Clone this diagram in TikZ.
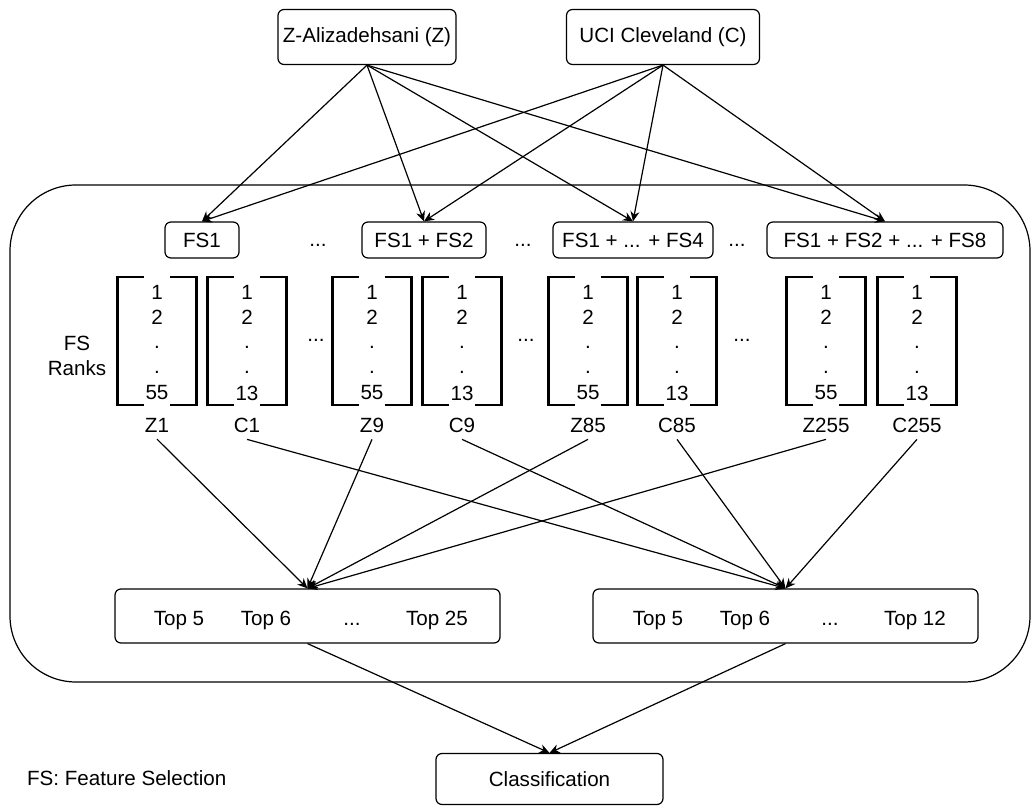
\documentclass[tikz,border=0pt]{standalone}
\usepackage{fontspec}
\setmainfont{Liberation Sans}
\usepackage{tikz}
\usetikzlibrary{arrows.meta}

\begin{document}
\begin{tikzpicture}[x=0.5pt, y=-0.5pt,
  font=\fontsize{10.3}{12.4}\selectfont,
  box/.style={draw, rounded corners=3pt, line width=0.6pt, inner sep=0pt},
  link/.style={-{Stealth[length=5pt,width=4.5pt]}, line width=0.6pt},
  rankline/.style={line width=1.3pt}]
\useasboundingbox (0, 0) rectangle (1034, 807);
\draw[line width=0.6pt, rounded corners=33pt] (10, 185) rectangle (1030, 682);
\node at (367, 37) (zds) [box, minimum width=89pt, minimum height=27.5pt] {Z-Alizadehsani (Z)};
\node at (663, 37) (uci) [box, minimum width=96.5pt, minimum height=27.5pt] {UCI Cleveland (C)};
\node at (202, 240) (fsone) [box, minimum width=37pt, minimum height=18pt] {FS1};
\node at (424, 240) (fstwo) [box, minimum width=62pt, minimum height=18pt] {FS1 + FS2};
\node at (633, 240) (fsfour) [box, minimum width=80pt, minimum height=18pt] {FS1 + ... + FS4};
\node at (885, 240) (fseight) [box, minimum width=118pt, minimum height=18pt] {FS1 + FS2 + ... + FS8};
\node at (318, 245) (dA) {...};
\node at (523, 245) (dB) {...};
\node at (737, 245) (dC) {...};
\draw[link] (zds.south) -- (fsone.north);
\draw[link] (zds.south) -- (fstwo.north);
\draw[link] (zds.south) -- (fsfour.north);
\draw[link] (zds.south) -- (fseight.north);
\draw[link] (uci.south) -- (fsone.north);
\draw[link] (uci.south) -- (fstwo.north);
\draw[link] (uci.south) -- (fsfour.north);
\draw[link] (uci.south) -- (fseight.north);
\node at (77, 356) (ranks) [align=center] {FS\\Ranks};
\foreach \cx/\nm/\last in {157/Z1/55, 247/C1/13, 372/Z9/55, 462/C9/13,
                           588/Z85/55, 677/C85/13, 826/Z255/55, 917/C255/13} {
  \draw[rankline] ({\cx-13}, 277) -- ({\cx-39.5}, 277) -- ({\cx-39.5}, 405) -- ({\cx-13}, 405);
  \draw[rankline] ({\cx+13}, 277) -- ({\cx+39.5}, 277) -- ({\cx+39.5}, 405) -- ({\cx+13}, 405);
  \node at (\cx, 292) {1};
  \node at (\cx, 317) {2};
  \node at (\cx, 347) {.};
  \node at (\cx, 372) {.};
  \node at (\cx, 393) {\last};
  \node at (\cx, 425) (\nm) {\nm};
}
\node at (316, 340) (dD) {...};
\node at (526, 340) (dE) {...};
\node at (742, 340) (dF) {...};
\node at (307.5, 616) (lbox) [box, minimum width=192.5pt, minimum height=27pt] {};
\node at (785.5, 616) (rbox) [box, minimum width=192.5pt, minimum height=27pt] {};
\node at (179, 625) (lA) [anchor=base] {Top 5};
\node at (266, 625) (lB) [anchor=base] {Top 6};
\node at (352, 625) (lC) [anchor=base] {...};
\node at (437, 625) (lD) [anchor=base] {Top 25};
\node at (658, 625) (rA) [anchor=base] {Top 5};
\node at (745, 625) (rB) [anchor=base] {Top 6};
\node at (830, 625) (rC) [anchor=base] {...};
\node at (915, 625) (rD) [anchor=base] {Top 12};
\draw[link] (Z1.south) -- (lbox.north);
\draw[link] (Z9.south) -- (lbox.north);
\draw[link] (Z85.south) -- (lbox.north);
\draw[link] (Z255.south) -- (lbox.north);
\draw[link] (C1.south) -- (rbox.north);
\draw[link] (C9.south) -- (rbox.north);
\draw[link] (C85.south) -- (rbox.north);
\draw[link] (C255.south) -- (rbox.north);
\node at (549.5, 779) (cls) [box, minimum width=113.5pt, minimum height=25.5pt] {Classification};
\draw[link] (lbox.south) -- (cls.north);
\draw[link] (rbox.south) -- (cls.north);
\node at (20, 778) (note) [anchor=west] {FS: Feature Selection};
\end{tikzpicture}
\end{document}
